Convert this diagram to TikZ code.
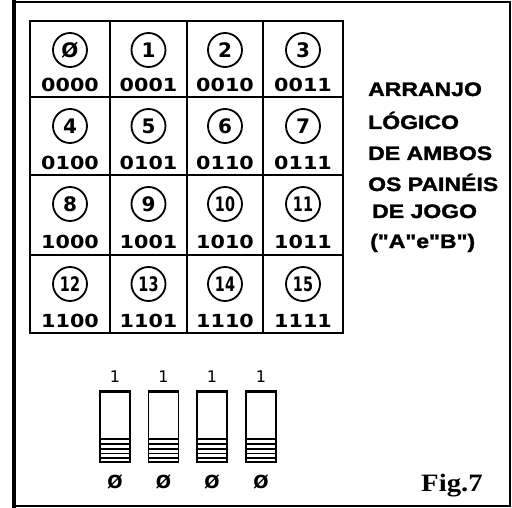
\documentclass[tikz,border=0pt]{standalone}
\usepackage{fontspec}
\newfontfamily\digfont{DejaVu Sans}
\newfontfamily\conddig[FakeStretch=0.72]{DejaVu Sans}
\newfontfamily\binfont[FakeStretch=1.15]{DejaVu Sans}
\newfontfamily\capfont[FakeStretch=1.18,FakeBold=1.5]{Liberation Sans}
\newfontfamily\figfont[FakeStretch=1.15]{Liberation Serif}
\begin{document}
\begin{tikzpicture}[x=1pt,y=-1pt,
  circ/.style={circle,draw,line width=1.8pt,minimum size=34pt,inner sep=0pt,
    font={\fontsize{20}{20}\selectfont\digfont\bfseries}},
  binlab/.style={inner sep=0pt,font={\fontsize{18}{18}\selectfont\binfont\bfseries}},
  captext/.style={anchor=base west,inner sep=0pt,font={\fontsize{19.5}{19.5}\selectfont\capfont\bfseries}},
  swbox/.style={draw,line width=1.8pt,minimum width=30pt,minimum height=70pt,inner sep=0pt},
  swlab/.style={inner sep=0pt,font={\fontsize{16}{16}\selectfont\digfont}},
  zlab/.style={inner sep=0pt,font={\fontsize{18}{18}\selectfont\digfont\bfseries}},
  gridline/.style={line width=2.2pt}]
\useasboundingbox (0,0) rectangle (512,508);
\fill[white] (0,0) rectangle (512,508);
% outer frame
\draw[line width=2.5pt] (14,2) rectangle (510,506);
\draw[line width=4.5pt] (14,0) -- (14,508);
% grid
\draw[gridline] (30,21) rectangle (343,333);
\foreach \x in {110,187,263} \draw[gridline] (\x,21) -- (\x,333);
\foreach \y in {97,175,255} \draw[gridline] (30,\y) -- (343,\y);
% cells
\foreach \n/\c/\r/\lab/\bin in {0/0/0/Ø/0000,1/1/0/1/0001,2/2/0/2/0010,3/3/0/3/0011,
  4/0/1/4/0100,5/1/1/5/0101,6/2/1/6/0110,7/3/1/7/0111,
  8/0/2/8/1000,9/1/2/9/1001,10/2/2/{\conddig\bfseries 10}/1010,11/3/2/{\conddig\bfseries 11}/1011,
  12/0/3/{\conddig\bfseries 12}/1100,13/1/3/{\conddig\bfseries 13}/1101,14/2/3/{\conddig\bfseries 14}/1110,15/3/3/{\conddig\bfseries 15}/1111}{
  \pgfmathsetmacro\cx{{70,148.5,225,303}[\c]}
  \pgfmathsetmacro\cy{{50,126,204,284}[\r]}
  \pgfmathsetmacro\by{{85,163,242,321}[\r]}
  \node[circ] (c\n) at (\cx,\cy) {\lab};
  \node[binlab] (b\n) at (\cx,\by) {\bin};
}
% caption text
\node[captext] (t1) at (368,96) {ARRANJO};
\node[captext] (t2) at (368,129) {LÓGICO};
\node[captext] (t3) at (368,160) {DE AMBOS};
\node[captext] (t4) at (368,191) {OS PAINÉIS};
\node[captext] (t5) at (372,218) {DE JOGO};
\node[captext] (t6) at (370,248) {("A"e"B")};
% switches
\foreach \i/\x in {1/115,2/163.5,3/212,4/261}{
  \node[swbox] (s\i) at (\x,427) {};
  \draw[line width=3pt] (s\i.north west) -- (s\i.north east);
  \foreach \d in {4.7,9.3,14,18.8,23.8}
    \draw[line width=1.6pt] ([yshift=\d pt]s\i.south west) -- ([yshift=\d pt]s\i.south east);
  \node[swlab] (o\i) at (\x,377) {1};
  \node[zlab] (z\i) at (\x,482) {Ø};
}
% figure label
\node[anchor=base west,inner sep=0pt,font={\fontsize{25}{25}\selectfont\figfont\bfseries}] (fig) at (421,491) {Fig.7};
\end{tikzpicture}
\end{document}
